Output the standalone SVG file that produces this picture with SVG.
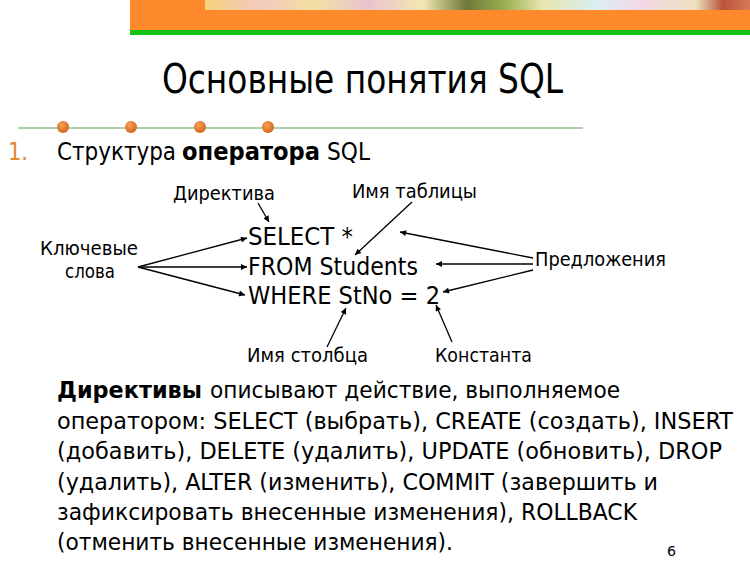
<svg xmlns="http://www.w3.org/2000/svg" width="750" height="561" viewBox="0 0 750 561">
<style>
text{font-family:"DejaVu Sans Condensed","DejaVu Sans",sans-serif;fill:#000}
.t{font-size:40px}
.h{font-size:24px}
.c{font-size:25px}
.l{font-size:19px}
.p{font-size:23px}
.b{font-weight:bold}
.ar{stroke:#000;stroke-width:1.3;fill:none;marker-end:url(#ah)}
</style>
<defs>
<marker id="ah" viewBox="0 0 10 10" refX="10" refY="5" markerWidth="7" markerHeight="6" markerUnits="userSpaceOnUse" orient="auto">
<path d="M0,0 L10,5 L0,10 z" fill="#000"/>
</marker>
<radialGradient id="dot" cx="40%" cy="35%" r="65%">
<stop offset="0" stop-color="#f7a25a"/>
<stop offset="1" stop-color="#d2661a"/>
</radialGradient>
<linearGradient id="fl" x1="0" y1="0" x2="1" y2="0">
<stop offset="0" stop-color="#f5d27a"/>
<stop offset="0.1" stop-color="#f3c9c0"/>
<stop offset="0.2" stop-color="#f1e0a0"/>
<stop offset="0.3" stop-color="#e9c4d0"/>
<stop offset="0.4" stop-color="#f2e7b0"/>
<stop offset="0.48" stop-color="#6e7a3a"/>
<stop offset="0.55" stop-color="#9ab050"/>
<stop offset="0.62" stop-color="#e8e6b0"/>
<stop offset="0.72" stop-color="#d9eef0"/>
<stop offset="0.8" stop-color="#f4d8e8"/>
<stop offset="0.9" stop-color="#efe2c0"/>
<stop offset="0.95" stop-color="#b8543a"/>
<stop offset="1" stop-color="#d87a5a"/>
</linearGradient>
</defs>
<rect width="750" height="561" fill="#fff"/>
<g id="banner">
<rect x="130" y="0" width="620" height="30" fill="#ff8a2c"/>
<rect x="205" y="0" width="545" height="10" fill="url(#fl)"/>
<rect x="130" y="30" width="620" height="5" fill="#14c414"/>
</g>
<g id="title">
<text class="t" x="162" y="93" textLength="401" lengthAdjust="spacingAndGlyphs">Основные понятия SQL</text>
</g>
<g id="divider">
<line x1="18" y1="128" x2="583" y2="128" stroke="#8fc08f" stroke-width="1.5"/>
<circle cx="63" cy="127" r="6" fill="url(#dot)"/>
<circle cx="131" cy="127" r="6" fill="url(#dot)"/>
<circle cx="200" cy="127" r="6" fill="url(#dot)"/>
<circle cx="268" cy="127" r="6" fill="url(#dot)"/>
</g>
<g id="heading">
<text class="h" x="8" y="160" style="fill:#e8852f" textLength="20" lengthAdjust="spacingAndGlyphs">1.</text>
<text class="h" x="57" y="160" textLength="119" lengthAdjust="spacingAndGlyphs">Структура</text>
<text class="h b" x="182" y="160" textLength="138" lengthAdjust="spacingAndGlyphs">оператора</text>
<text class="h" x="327" y="160" textLength="43" lengthAdjust="spacingAndGlyphs">SQL</text>
</g>
<g id="code">
<text class="c" x="248" y="245" textLength="105" lengthAdjust="spacingAndGlyphs">SELECT *</text>
<text class="c" x="248" y="275" textLength="170" lengthAdjust="spacingAndGlyphs">FROM Students</text>
<text class="c" x="248" y="304" textLength="192" lengthAdjust="spacingAndGlyphs">WHERE StNo = 2</text>
</g>
<g id="n-keywords">
<text class="l" x="40" y="255" textLength="98" lengthAdjust="spacingAndGlyphs">Ключевые</text>
<text class="l" x="65" y="278" textLength="50" lengthAdjust="spacingAndGlyphs">слова</text>
</g>
<g id="n-directive">
<text class="l" x="173" y="200" textLength="102" lengthAdjust="spacingAndGlyphs">Директива</text>
</g>
<g id="n-table">
<text class="l" x="352" y="198" textLength="125" lengthAdjust="spacingAndGlyphs">Имя таблицы</text>
</g>
<g id="n-clauses">
<text class="l" x="535" y="266" textLength="131" lengthAdjust="spacingAndGlyphs">Предложения</text>
</g>
<g id="n-column">
<text class="l" x="247" y="362" textLength="121" lengthAdjust="spacingAndGlyphs">Имя столбца</text>
</g>
<g id="n-const">
<text class="l" x="435" y="362" textLength="97" lengthAdjust="spacingAndGlyphs">Константа</text>
</g>
<g id="connectors">
<line class="ar" x1="138" y1="267" x2="247" y2="238"/>
<line class="ar" x1="138" y1="267" x2="247" y2="267"/>
<line class="ar" x1="138" y1="267" x2="245" y2="295"/>
<line class="ar" x1="258" y1="203" x2="269" y2="222"/>
<line class="ar" x1="412" y1="202" x2="355" y2="255"/>
<line class="ar" x1="533" y1="258" x2="400" y2="232"/>
<line class="ar" x1="533" y1="264" x2="436" y2="264"/>
<line class="ar" x1="533" y1="270" x2="443" y2="292"/>
<line class="ar" x1="327" y1="347" x2="346" y2="308"/>
<line class="ar" x1="452" y1="342" x2="436" y2="305"/>
</g>
<g id="paragraph">
<text class="p b" x="57" y="398" textLength="145" lengthAdjust="spacingAndGlyphs">Директивы</text>
<text class="p" x="210" y="398" textLength="410" lengthAdjust="spacingAndGlyphs">описывают действие, выполняемое</text>
<text class="p" x="57" y="429" textLength="676" lengthAdjust="spacingAndGlyphs">оператором: SELECT (выбрать), CREATE (создать), INSERT</text>
<text class="p" x="57" y="459" textLength="665" lengthAdjust="spacingAndGlyphs">(добавить), DELETE (удалить), UPDATE (обновить), DROP</text>
<text class="p" x="57" y="490" textLength="601" lengthAdjust="spacingAndGlyphs">(удалить), ALTER (изменить), COMMIT (завершить и</text>
<text class="p" x="57" y="520" textLength="580" lengthAdjust="spacingAndGlyphs">зафиксировать внесенные изменения), ROLLBACK</text>
<text class="p" x="57" y="550" textLength="396" lengthAdjust="spacingAndGlyphs">(отменить внесенные изменения).</text>
</g>
<g id="page">
<text x="667" y="556" style="font-size:14px" textLength="9" lengthAdjust="spacingAndGlyphs">6</text>
</g>
</svg>
